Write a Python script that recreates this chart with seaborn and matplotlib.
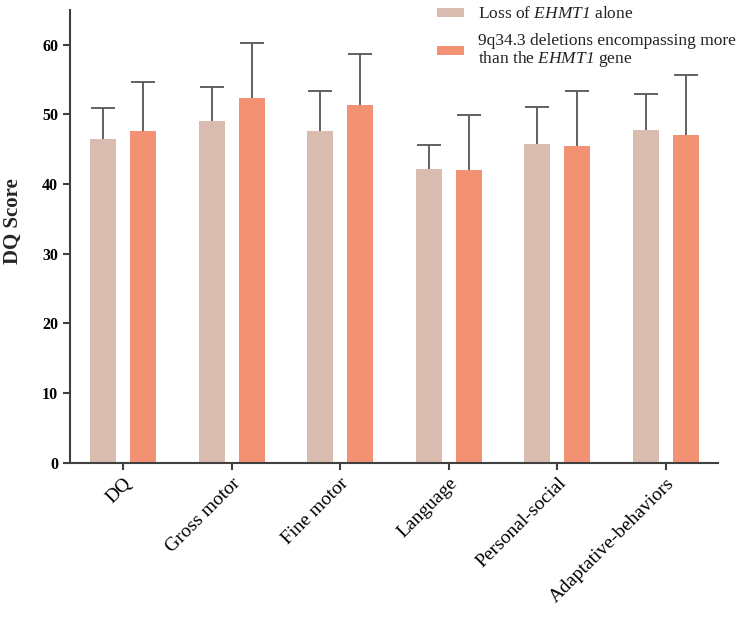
import pandas as pd
import numpy as np
import matplotlib
matplotlib.use('Agg')
import matplotlib.pyplot as plt
import seaborn as sns

domains = ['DQ', 'Gross motor', 'Fine motor', 'Language', 'Personal-social', 'Adaptative-behaviors']
groups = ['Loss of $\\mathrm{EHMT1}$ alone',
          '9q34.3 deletions encompassing more\nthan the $\\mathrm{EHMT1}$ gene']
mean_alone = [46.5, 49.0, 47.6, 42.1, 45.7, 47.8]
sd_alone = [4.4, 5.0, 5.8, 3.5, 5.4, 5.2]
mean_more = [47.6, 52.4, 51.4, 42.0, 45.4, 47.0]
sd_more = [7.1, 7.8, 7.3, 7.9, 7.9, 8.7]
colors = ['#D9BCAF', '#F39174']

sns.set_style('ticks')
plt.rcParams['font.family'] = ['Liberation Serif', 'DejaVu Serif']
# math text only used for the italic gene name (digits included)
plt.rcParams['mathtext.fontset'] = 'custom'
plt.rcParams['mathtext.rm'] = 'Liberation Serif:italic'
plt.rcParams['mathtext.it'] = 'Liberation Serif:italic'

df = pd.DataFrame({
    'Domain': domains * 2,
    'Group': [groups[0]] * 6 + [groups[1]] * 6,
    'Score': mean_alone + mean_more,
    'SD': sd_alone + sd_more,
})

fig = plt.figure(figsize=(7.44, 6.18), dpi=100)
ax = fig.add_axes([0.094, 0.251, 0.871, 0.733])
sns.barplot(data=df, x='Domain', y='Score', hue='Group', palette=colors,
            width=0.74, gap=0.35, errorbar=None, ax=ax, linewidth=0, saturation=1)

# upward-only error bars (SD)
for container, sds in zip(ax.containers, [sd_alone, sd_more]):
    xs = [p.get_x() + p.get_width() / 2 for p in container.patches]
    ys = [p.get_height() for p in container.patches]
    eb = ax.errorbar(xs, ys, yerr=[np.zeros(len(sds)), sds], fmt='none',
                     ecolor='#555555', elinewidth=1.3, capsize=8.5, capthick=1.3)
    eb[1][0].set_visible(False)

ax.set_ylim(0, 65)
ax.set_xlim(-0.49, 5.48)
ax.set_yticks([0, 10, 20, 30, 40, 50, 60])
ax.set_xlabel('')
ax.set_ylabel('DQ Score', fontsize=15, fontweight='bold')
ax.yaxis.set_label_coords(-0.073, 0.534)
for lab in ax.get_yticklabels():
    lab.set_fontweight('bold')
    lab.set_fontsize(11.5)
ax.set_xticks(range(len(domains)))
ax.set_xticklabels(domains, rotation=45, ha='right', rotation_mode='anchor', fontsize=14)
sns.despine(ax=ax)
for s in ['left', 'bottom']:
    ax.spines[s].set_color('#404040')
    ax.spines[s].set_linewidth(1.5)
ax.tick_params(axis='both', colors='#404040', width=1.5, length=5, labelcolor='black')

handles, labels = ax.get_legend_handles_labels()
leg = ax.legend(handles, labels, loc='upper left', bbox_to_anchor=(0.567, 1.015),
                bbox_transform=fig.transFigure, frameon=False, fontsize=12.5,
                handlelength=1.5, handleheight=0.45, handletextpad=0.85, labelspacing=0.6)
for t in leg.get_texts():
    t.set_linespacing(1.0)
    t.set_color('#222222')

fig.savefig('out.png', dpi=100)
